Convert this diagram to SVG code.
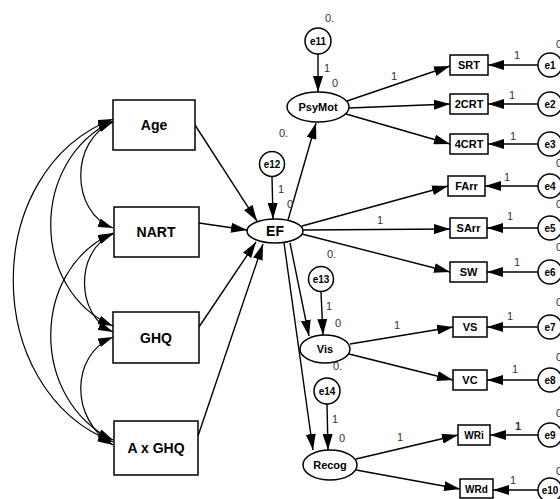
<svg xmlns="http://www.w3.org/2000/svg" width="560" height="499" viewBox="0 0 560 499">
<defs>
<marker id="ah" markerUnits="userSpaceOnUse" viewBox="0 0 16 10" refX="16" refY="5" markerWidth="16" markerHeight="10" orient="auto">
<path d="M0,0 L16,5 L0,10 z" fill="#000"/>
</marker>
<marker id="ah2" markerUnits="userSpaceOnUse" viewBox="0 0 15 9" refX="15" refY="4.5" markerWidth="15" markerHeight="9" orient="auto-start-reverse">
<path d="M0,0 L15,4.5 L0,9 z" fill="#000"/>
</marker>
</defs>
<style>
.n{fill:#fff;stroke:#000;stroke-width:1.5}
.t{font-family:"Liberation Sans",Arial,sans-serif;font-weight:bold;fill:#000;text-anchor:middle}
.big{font-size:14px}
.mid{font-size:11px}
.sm{font-size:10px}
.lb{font-family:"Liberation Sans",Arial,sans-serif;font-size:11px;fill:#333}
.c line{stroke:#000;stroke-width:1.4;marker-end:url(#ah)}
.c path{fill:none;stroke:#000;stroke-width:1.2;marker-start:url(#ah2);marker-end:url(#ah2)}
</style>
<rect width="560" height="499" fill="#fff"/>
<g class="c" id="connectors">
<path d="M113,122 C70,140 70,212 113,228"/>
<path d="M113,121 C30,160 30,290 113,326"/>
<path d="M113,119 C-20,170 -20,390 113,442"/>
<path d="M113,234 C75,250 75,315 113,332"/>
<path d="M113,233 C30,270 30,400 113,440"/>
<path d="M113,337 C70,355 70,420 113,445"/>
<line x1="195" y1="125" x2="257" y2="221"/>
<line x1="199" y1="223" x2="247" y2="230"/>
<line x1="199" y1="327" x2="256" y2="242"/>
<line x1="198" y1="436" x2="263" y2="244"/>
<line x1="272" y1="177" x2="273" y2="219"/>
<line x1="288" y1="220" x2="316" y2="123"/>
<line x1="318" y1="54" x2="318" y2="92"/>
<line x1="347" y1="101" x2="450" y2="66"/>
<line x1="349" y1="108" x2="450" y2="104"/>
<line x1="346" y1="114" x2="450" y2="144"/>
<line x1="302" y1="226" x2="448" y2="186"/>
<line x1="303" y1="230" x2="450" y2="229"/>
<line x1="302" y1="234" x2="450" y2="272"/>
<line x1="290" y1="243" x2="309" y2="336"/>
<line x1="284" y1="243" x2="313" y2="450"/>
<line x1="321" y1="292" x2="323" y2="335"/>
<line x1="350" y1="344" x2="453" y2="327"/>
<line x1="349" y1="354" x2="453" y2="380"/>
<line x1="327" y1="404" x2="328" y2="450"/>
<line x1="356" y1="459" x2="458" y2="435"/>
<line x1="356" y1="470" x2="460" y2="489"/>
<line x1="538" y1="65" x2="488" y2="65"/>
<line x1="538" y1="104" x2="488" y2="104"/>
<line x1="538" y1="144" x2="488" y2="144"/>
<line x1="538" y1="186" x2="485" y2="186"/>
<line x1="538" y1="228" x2="487" y2="228"/>
<line x1="538" y1="272" x2="487" y2="272"/>
<line x1="538" y1="327" x2="487" y2="327"/>
<line x1="538" y1="380" x2="487" y2="380"/>
<line x1="538" y1="435" x2="490" y2="435"/>
<line x1="538" y1="490" x2="493" y2="490"/>
</g>
<g id="Age"><rect class="n" x="113" y="100" width="82" height="50"/><text class="t big" x="154" y="130">Age</text></g>
<g id="NART"><rect class="n" x="114" y="207" width="85" height="50"/><text class="t big" x="156" y="237">NART</text></g>
<g id="GHQ"><rect class="n" x="113" y="312" width="86" height="51"/><text class="t big" x="156" y="343">GHQ</text></g>
<g id="AxGHQ"><rect class="n" x="114" y="421" width="84" height="54"/><text class="t big" x="156" y="453">A x GHQ</text></g>
<g id="EF"><ellipse class="n" cx="275" cy="231" rx="28" ry="12"/><text class="t big" x="275" y="236">EF</text></g>
<g id="e12"><circle class="n" cx="272" cy="164" r="12.5"/><text class="t sm" x="272" y="168">e12</text><text class="lb" x="279" y="137">0.</text></g>
<g id="PsyMot"><ellipse class="n" cx="318" cy="107" rx="31" ry="15"/><text class="t mid" x="318" y="111">PsyMot</text></g>
<g id="e11"><circle class="n" cx="318" cy="41" r="13"/><text class="t sm" x="318" y="45">e11</text><text class="lb" x="325" y="22">0.</text></g>
<g id="e13"><circle class="n" cx="321" cy="279" r="12.5"/><text class="t sm" x="321" y="283">e13</text><text class="lb" x="327" y="258">0.</text></g>
<g id="Vis"><ellipse class="n" cx="325" cy="349" rx="25" ry="14"/><text class="t mid" x="325" y="353">Vis</text></g>
<g id="e14"><circle class="n" cx="327" cy="391" r="13"/><text class="t sm" x="327" y="395">e14</text></g>
<g id="Recog"><ellipse class="n" cx="330" cy="465" rx="27" ry="15"/><text class="t mid" x="330" y="469">Recog</text></g>
<g id="SRT"><rect class="n" x="450" y="55" width="38" height="20"/><text class="t mid" x="469" y="69">SRT</text></g>
<g id="2CRT"><rect class="n" x="450" y="94" width="38" height="20"/><text class="t mid" x="469" y="108">2CRT</text></g>
<g id="4CRT"><rect class="n" x="450" y="134" width="38" height="20"/><text class="t mid" x="469" y="148">4CRT</text></g>
<g id="FArr"><rect class="n" x="448" y="176" width="37" height="20"/><text class="t mid" x="466.5" y="190">FArr</text></g>
<g id="SArr"><rect class="n" x="450" y="218" width="37" height="20"/><text class="t mid" x="468.5" y="232">SArr</text></g>
<g id="SW"><rect class="n" x="450" y="262" width="37" height="20"/><text class="t mid" x="468.5" y="276">SW</text></g>
<g id="VS"><rect class="n" x="453" y="317" width="34" height="20"/><text class="t mid" x="470" y="331">VS</text></g>
<g id="VC"><rect class="n" x="453" y="370" width="34" height="20"/><text class="t mid" x="470" y="384">VC</text></g>
<g id="WRi"><rect class="n" x="458" y="425" width="32" height="20"/><text class="t sm" x="474" y="439">WRi</text></g>
<g id="WRd"><rect class="n" x="460" y="479" width="33" height="19"/><text class="t sm" x="476.5" y="493">WRd</text></g>
<g id="e1"><circle class="n" cx="550" cy="65" r="12"/><text class="t sm" x="550" y="69">e1</text><text class="lb" x="556" y="48">0.</text></g>
<g id="e2"><circle class="n" cx="550" cy="104" r="12"/><text class="t sm" x="550" y="108">e2</text></g>
<g id="e3"><circle class="n" cx="550" cy="144" r="12"/><text class="t sm" x="550" y="148">e3</text></g>
<g id="e4"><circle class="n" cx="550" cy="186" r="12"/><text class="t sm" x="550" y="190">e4</text><text class="lb" x="556" y="167">0.</text></g>
<g id="e5"><circle class="n" cx="550" cy="228" r="12"/><text class="t sm" x="550" y="232">e5</text><text class="lb" x="556" y="208">0.</text></g>
<g id="e6"><circle class="n" cx="550" cy="272" r="12"/><text class="t sm" x="550" y="276">e6</text><text class="lb" x="556" y="251">0.</text></g>
<g id="e7"><circle class="n" cx="550" cy="327" r="12"/><text class="t sm" x="550" y="331">e7</text><text class="lb" x="556" y="306">0.</text></g>
<g id="e8"><circle class="n" cx="550" cy="380" r="12"/><text class="t sm" x="550" y="384">e8</text><text class="lb" x="556" y="361">0.</text></g>
<g id="e9"><circle class="n" cx="550" cy="435" r="12"/><text class="t sm" x="550" y="439">e9</text><text class="lb" x="556" y="417">0.</text></g>
<g id="e10"><circle class="n" cx="550" cy="490" r="12"/><text class="t sm" x="550" y="494">e10</text><text class="lb" x="556" y="475">0.</text></g>
<g id="labels" class="lb">
<text x="324" y="72">1</text>
<text x="332" y="87">0</text>
<text x="391" y="80">1</text>
<text x="278" y="193">1</text>
<text x="287" y="208">0</text>
<text x="377" y="224">1</text>
<text x="326" y="310">1</text>
<text x="335" y="327">0</text>
<text x="333" y="370">0.</text>
<text x="394" y="329">1</text>
<text x="332" y="423">1</text>
<text x="339" y="442">0</text>
<text x="397" y="441">1</text>
<text x="514" y="59">1</text>
<text x="509" y="99">1</text>
<text x="510" y="140">1</text>
<text x="504" y="181">1</text>
<text x="507" y="220">1</text>
<text x="514" y="266">1</text>
<text x="507" y="320">1</text>
<text x="512" y="373">1</text>
<text x="515" y="430" font-weight="bold">1</text>
<text x="510" y="484">1</text>
</g>
</svg>
